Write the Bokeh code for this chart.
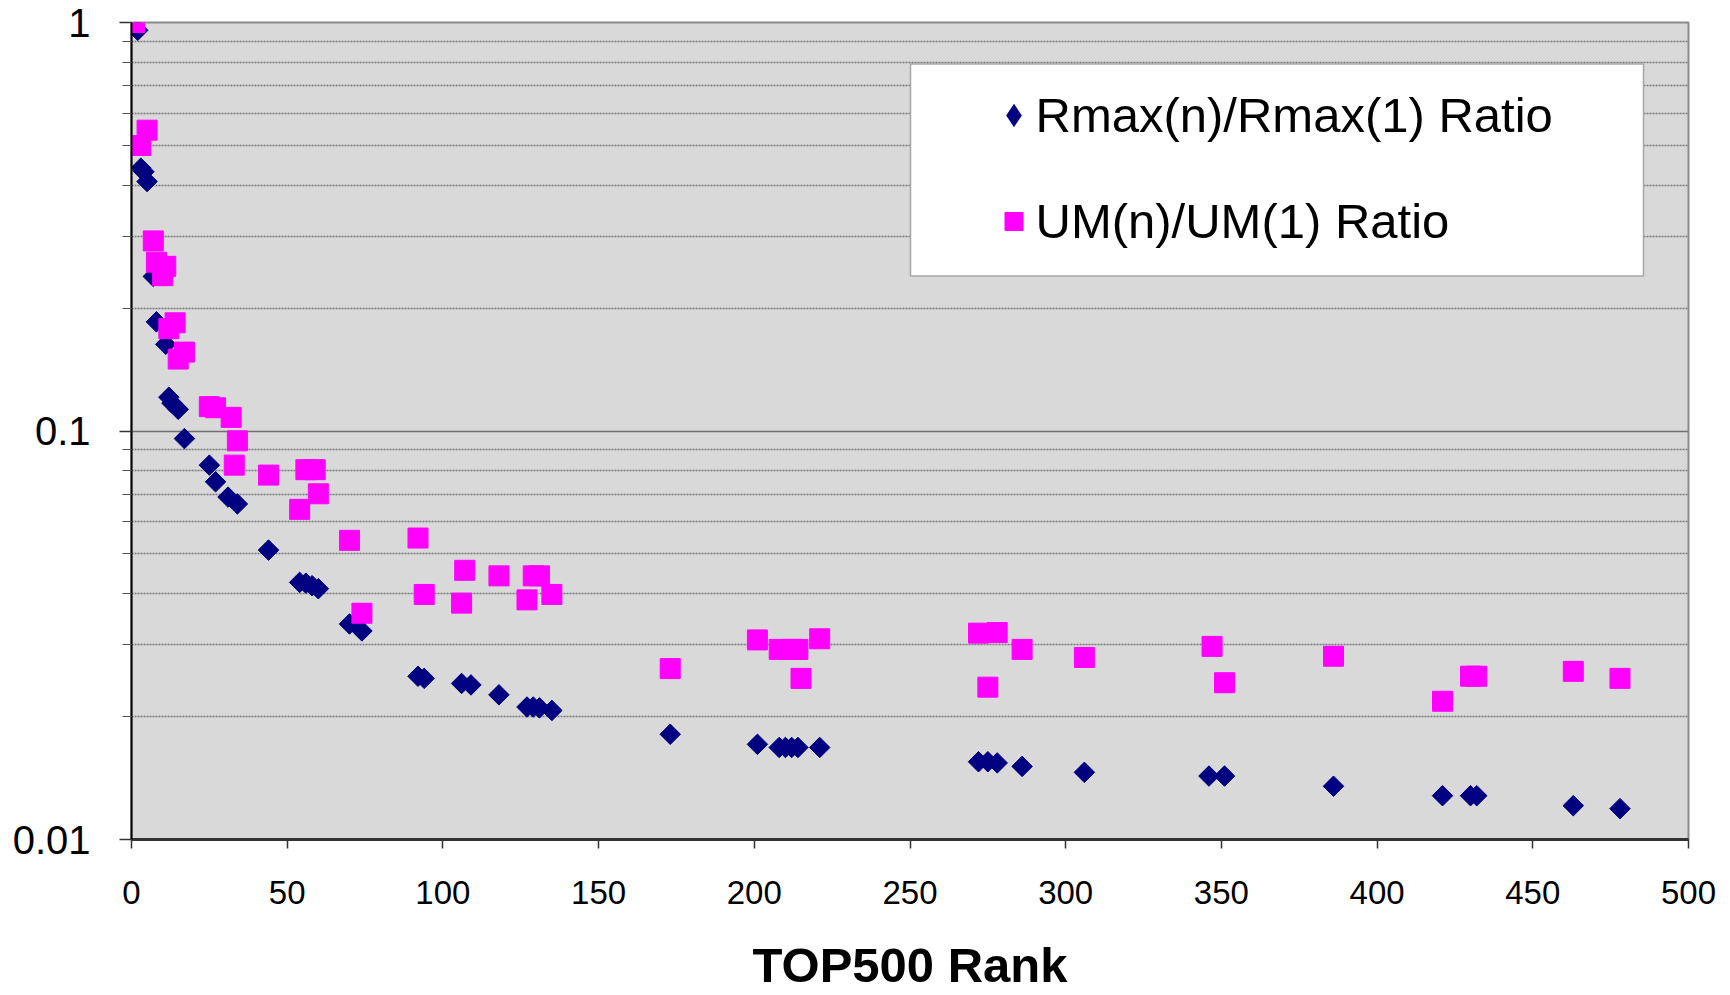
import math
from bokeh.plotting import figure
from bokeh.models import FixedTicker, Legend, LegendItem, BoxAnnotation, LinearAxis
from bokeh.embed import file_html
from bokeh.resources import INLINE

# ---- data ----
rmax_rank = [2, 3, 4, 5, 7, 8, 11, 12, 13, 15, 17, 25, 27, 31, 34, 44, 54, 56, 58, 60,
             70, 74, 92, 94, 106, 109, 118, 127, 129, 131, 135, 173, 201, 208, 210, 212,
             214, 221, 272, 275, 278, 286, 306, 346, 351, 386, 421, 430, 432, 463, 478]
rmax_ratio = [0.957, 0.44, 0.431, 0.408, 0.239, 0.185, 0.163, 0.121, 0.117, 0.113,
              0.0958, 0.0825, 0.0751, 0.0689, 0.0663, 0.0511, 0.0426, 0.0424, 0.0418, 0.0411,
              0.0337, 0.0324, 0.0251, 0.0248, 0.0241, 0.0239, 0.0226, 0.0211, 0.0211, 0.0210,
              0.0207, 0.0181, 0.0171, 0.0168, 0.0168, 0.0168, 0.0168, 0.0168, 0.0155, 0.0155,
              0.0154, 0.0151, 0.0146, 0.0143, 0.0143, 0.0135, 0.0128, 0.0128, 0.0128, 0.0121,
              0.0119]

um_rank = [1, 3, 5, 7, 8, 10, 11, 12, 14, 15, 17, 25, 27, 32, 34, 33, 44, 54, 56, 59,
           60, 70, 74, 92, 94, 106, 107, 118, 127, 129, 131, 135, 173, 201, 208, 212,
           214, 215, 221, 272, 275, 278, 286, 306, 347, 351, 386, 421, 430, 432, 463, 478]
um_ratio = [1.0, 0.50, 0.545, 0.292, 0.259, 0.240, 0.253, 0.178, 0.184, 0.150,
            0.156, 0.1147, 0.114, 0.108, 0.0946, 0.0825, 0.078, 0.0643, 0.0804, 0.0804,
            0.0702, 0.054, 0.0358, 0.0547, 0.0398, 0.0379, 0.0456, 0.0442, 0.0386, 0.0442,
            0.0442, 0.0398, 0.0262, 0.0308, 0.0292, 0.0292, 0.0292, 0.0248, 0.031, 0.032,
            0.0236, 0.0321, 0.0292, 0.0279, 0.0297, 0.0242, 0.0281, 0.0218, 0.0251, 0.0251,
            0.0258, 0.0248]

series_names = ["Rmax(n)/Rmax(1) Ratio", "UM(n)/UM(1) Ratio"]
x_title = "TOP500 Rank"
x_ticks = [0, 50, 100, 150, 200, 250, 300, 350, 400, 450, 500]
y_ticks = [0.01, 0.1, 1]
y_tick_labels = ["0.01", "0.1", "1"]
y_minor_ticks = [0.02, 0.03, 0.04, 0.05, 0.06, 0.07, 0.08, 0.09,
                 0.2, 0.3, 0.4, 0.5, 0.6, 0.7, 0.8, 0.9]

FONT = "Liberation Sans"
NAVY = "#000080"
MAGENTA = "#ff00ff"

p = figure(width=1725, height=995, x_range=(0, 500), y_range=(0.01, 1),
           y_axis_type="log", output_backend="svg", toolbar_location=None,
           min_border_left=131, min_border_right=37, min_border_top=22,
           min_border_bottom=156)

p.background_fill_color = "#d9d9d9"
p.border_fill_color = "white"
p.outline_line_color = "#8c8c8c"
p.outline_line_width = 2

# axes
p.xaxis.ticker = FixedTicker(ticks=x_ticks)
p.yaxis.ticker = FixedTicker(ticks=y_ticks, minor_ticks=y_minor_ticks)
p.yaxis.major_label_overrides = dict(zip(y_ticks, y_tick_labels))

for ax in (p.xaxis[0], p.yaxis[0]):
    ax.axis_line_color = "black"
    ax.axis_line_width = 2
    ax.major_tick_in = 0
    ax.minor_tick_in = 0
    ax.major_tick_line_color = "#333333"
    ax.minor_tick_line_color = "#555555"
    ax.major_tick_line_width = 1.5
    ax.minor_tick_line_width = 1.2
    ax.major_label_text_font = FONT
    ax.major_label_text_color = "black"

p.xaxis.major_tick_out = 9
p.xaxis.minor_tick_out = 0
p.xaxis.major_label_text_font_size = "33px"
p.xaxis.major_label_standoff = 32
p.xaxis.axis_line_color = "#333333"
p.xaxis.axis_line_width = 3

p.yaxis.major_tick_out = 12
p.yaxis.minor_tick_out = 9
p.yaxis.major_label_text_font_size = "40px"
p.yaxis.major_label_standoff = 29

# x-axis title on a tick-less axis stacked below the tick axis
title_axis = LinearAxis(ticker=FixedTicker(ticks=[]),
                        axis_line_alpha=0, major_tick_out=0, minor_tick_out=0,
                        major_tick_in=0, minor_tick_in=0, major_label_standoff=0,
                        axis_label=x_title, axis_label_standoff=31,
                        axis_label_text_font=FONT,
                        axis_label_text_font_style="bold",
                        axis_label_text_font_size="49px",
                        axis_label_text_color="black")
p.add_layout(title_axis, "below")

# grid
p.xgrid.grid_line_color = None
p.ygrid.grid_line_color = "#707070"
p.ygrid.grid_line_width = 1.5
p.ygrid.minor_grid_line_color = "#7a7a7a"
p.ygrid.minor_grid_line_width = 1.3
p.ygrid.minor_grid_line_dash = "2 1"

# data
r1 = p.scatter(rmax_rank, rmax_ratio, marker="square", size=14.5, angle=math.pi / 4,
               fill_color=NAVY, line_color=NAVY, line_width=1)
r2 = p.scatter(um_rank, um_ratio, marker="square", size=20,
               fill_color=MAGENTA, line_color=MAGENTA, line_width=1)
# legend swatch for the diamond series (legend keys are not rotated), hidden on the plot
r1_key = p.scatter(rmax_rank, rmax_ratio, marker="diamond", fill_color=NAVY,
                   line_color=NAVY, line_width=3, line_join="miter", visible=False)

# legend box
box = BoxAnnotation(left=779, right=1512, bottom=563.5, top=775.5,
                    left_units="screen", right_units="screen",
                    bottom_units="screen", top_units="screen",
                    fill_color="white", fill_alpha=1.0,
                    line_color="#a6a6a6", line_width=1.5, line_alpha=1.0,
                    level="annotation")
p.add_layout(box)

legend = Legend(items=[LegendItem(label=series_names[0], renderers=[r1_key]),
                       LegendItem(label=series_names[1], renderers=[r2])],
                location=(859.5, 590.5), orientation="vertical",
                padding=0, margin=0, spacing=50,
                glyph_width=45, glyph_height=56, label_height=56,
                label_standoff=0, click_policy="none",
                inactive_fill_alpha=0,
                label_text_font=FONT, label_text_font_size="49px",
                label_text_color="black",
                border_line_alpha=0, background_fill_alpha=0)
p.add_layout(legend)

open("out.html", "w").write(file_html(p, INLINE))
